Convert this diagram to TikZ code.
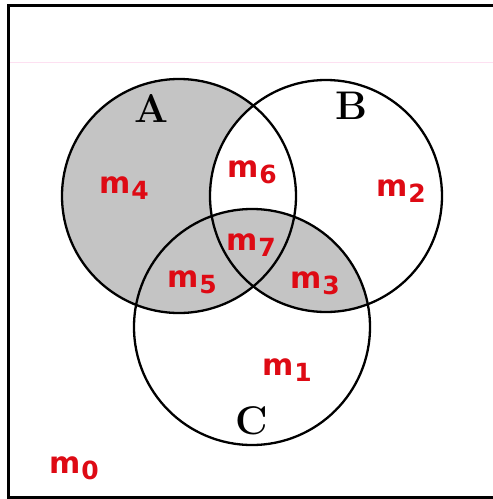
\documentclass[tikz,border=0pt]{standalone}
\usepackage{fontspec}
\newfontfamily\handfont{DejaVu Sans}
\definecolor{pen}{RGB}{222,10,20}
\begin{document}
\begin{tikzpicture}[x=1pt,y=-1pt,
  circ/.style={line width=2.3pt, draw=black},
  shade/.style={fill=black!23},
  setlbl/.style={font=\fontsize{40}{40}\selectfont\bfseries, inner sep=0pt},
  hand/.style={text=pen, font=\handfont\bfseries\fontsize{30}{30}\selectfont, inner sep=0pt}]
\newcommand{\mm}[1]{m\kern1pt\raisebox{-0.35ex}{\fontsize{25}{25}\selectfont #1}}
\useasboundingbox (0,0) rectangle (493,499);
\fill[white] (0,0) rectangle (493,499);
% faint scan line
\draw[magenta!12, line width=0.8pt] (10,62) -- (493,62);
% border
\draw[line width=3pt] (498,5) -- (8,5) -- (8,497) -- (498,497);
% shading
\fill[shade] (179,196) circle (117);
\begin{scope}
  \clip (179,196) circle (117);
  \fill[white] (326,196) circle (116);
\end{scope}
\begin{scope}
  \clip (326,196) circle (116);
  \fill[shade] (252,327) circle (118);
\end{scope}
% circles
\draw[circ] (179,196) circle (117);
\draw[circ] (326,196) circle (116);
\draw[circ] (252,327) circle (118);
% set labels
\node[setlbl] (A) at (151,108) {A};
\node[setlbl] (B) at (351,106) {B};
\node[setlbl] (C) at (252,421) {C};
% region labels
\node[hand] (m4) at (124,188) {\mm{4}};
\node[hand] (m6) at (252,172) {\mm{6}};
\node[hand] (m7) at (251,245) {\mm{7}};
\node[hand] (m5) at (192,282) {\mm{5}};
\node[hand] (m3) at (315,283) {\mm{3}};
\node[hand] (m2) at (401,191) {\mm{2}};
\node[hand] (m1) at (287,370) {\mm{1}};
\node[hand] (m0) at (74,468) {\mm{0}};
\end{tikzpicture}
\end{document}
